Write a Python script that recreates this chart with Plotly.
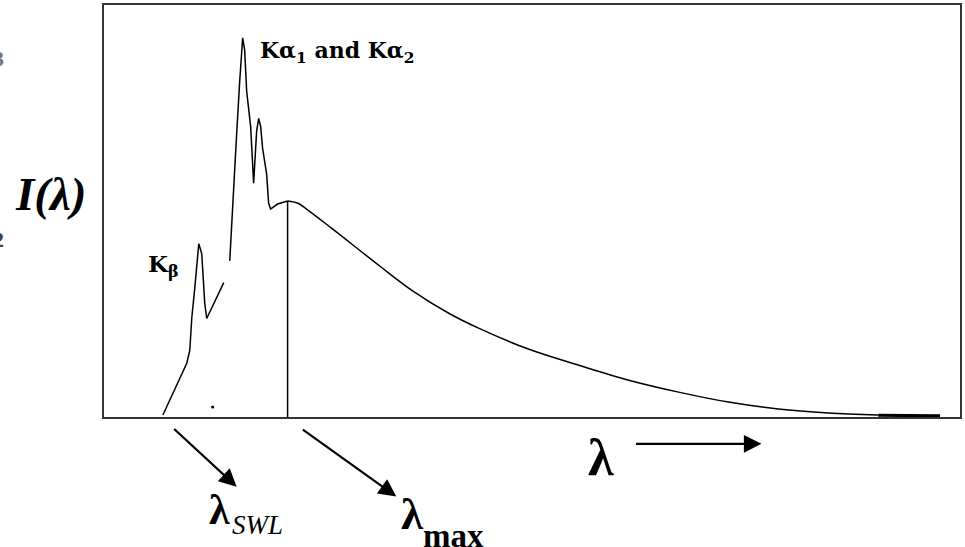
import plotly.graph_objects as go

# Spectrum (arbitrary units): wavelength axis 0..100, intensity 0..100
seg1_x = [6.88, 9.67, 10.02, 10.26, 10.61, 10.84, 11.07, 11.42, 11.77, 12.00, 13.99]
seg1_y = [0.48, 13.04, 16.18, 24.15, 31.40, 37.20, 42.03, 39.61, 27.54, 23.91, 32.61]

peaks_x = [14.69, 15.15, 15.50, 15.85, 16.20, 16.43, 16.67, 17.13, 17.48, 17.83, 18.07,
           18.30, 18.53, 19.00, 19.23, 19.46, 20.28, 21.45]
peaks_y = [37.9, 57.25, 68.84, 81.40, 92.03, 89.13, 78.99, 70.53, 56.76, 69.32, 72.46,
           70.53, 65.22, 58.94, 51.93, 50.48, 51.69, 52.42]

cont_x = [21.45, 22.61, 23.66, 26.69, 32.17, 36.01, 40.33, 43.82, 49.65, 55.48, 61.31,
          67.13, 72.96, 78.79, 84.62, 90.44]
cont_y = [52.42, 51.93, 50.48, 45.65, 36.71, 30.68, 25.12, 21.50, 16.43, 12.56, 8.94,
          6.04, 3.62, 1.93, 0.97, 0.48]

tail_x = [90.44, 97.67]
tail_y = [0.40, 0.30]

lambda_max_x = [21.45, 21.45]
lambda_max_y = [0, 52.42]

dot_x = [12.70]
dot_y = [2.42]

x_range = [0, 100]
y_range = [0, 100]

fig = go.Figure()
line_style = dict(color="black", width=1.5)
fig.add_trace(go.Scatter(x=seg1_x, y=seg1_y, mode="lines", line=line_style))
fig.add_trace(go.Scatter(x=peaks_x, y=peaks_y, mode="lines", line=line_style))
fig.add_trace(go.Scatter(x=cont_x, y=cont_y, mode="lines",
                         line=dict(color="black", width=1.5, shape="spline", smoothing=1.0)))
fig.add_trace(go.Scatter(x=tail_x, y=tail_y, mode="lines", line=dict(color="black", width=3)))
fig.add_trace(go.Scatter(x=lambda_max_x, y=lambda_max_y, mode="lines", line=dict(color="black", width=1.5)))
fig.add_trace(go.Scatter(x=dot_x, y=dot_y, mode="markers", marker=dict(color="black", size=3)))

serif = "Liberation Serif"
wide_serif = "DejaVu Serif"
P = dict(xref="paper", yref="paper", showarrow=False)
ann = []
ann.append(dict(x=0.1795, y=0.8865, xanchor="left", yanchor="middle",
                text="<b>Kα<sub>1</sub> and Kα<sub>2</sub></b>",
                font=dict(family=wide_serif, size=22, color="black"), **P))
ann.append(dict(x=0.049, y=0.3671, xanchor="left", yanchor="middle",
                text="<b>K<sub>β</sub></b>",
                font=dict(family=wide_serif, size=23, color="black"), **P))
ann.append(dict(x=-0.1060, y=0.5411, xanchor="left", yanchor="middle",
                text="<b><i>I(λ)</i></b>",
                font=dict(family=serif, size=47, color="black"), **P))
ann.append(dict(x=0.5810, y=-0.099, xanchor="center", yanchor="middle",
                text="<b>λ</b>",
                font=dict(family=serif, size=52, color="black"), **P))
ann.append(dict(x=0.1350, y=-0.2246, xanchor="center", yanchor="middle",
                text="<b>λ</b>",
                font=dict(family=serif, size=42, color="black"), **P))
ann.append(dict(x=0.1469, y=-0.2633, xanchor="left", yanchor="middle",
                text="<i>SWL</i>",
                font=dict(family=serif, size=27, color="black"), **P))
ann.append(dict(x=0.3600, y=-0.2343, xanchor="center", yanchor="middle",
                text="<b>λ</b>",
                font=dict(family=serif, size=45, color="black"), **P))
ann.append(dict(x=0.3706, y=-0.2880, xanchor="left", yanchor="middle",
                text="<b>max</b>",
                font=dict(family=serif, size=33, color="black"), **P))
# clipped fragments at left edge
ann.append(dict(x=-0.1142, y=0.87, xanchor="right", yanchor="middle",
                text="<b>3</b>", font=dict(family=serif, size=22, color="#777"), **P))
ann.append(dict(x=-0.1142, y=0.43, xanchor="right", yanchor="middle",
                text="<b>2</b>", font=dict(family=serif, size=22, color="#444"), **P))
# arrows
arrow_style = dict(xref="paper", yref="paper", showarrow=True, text="", arrowhead=2,
                   arrowsize=1.6, arrowwidth=2.2, arrowcolor="black",
                   axref="pixel", ayref="pixel")
ann.append(dict(x=0.1550, y=-0.1691, ax=-64, ay=-59, **arrow_style))
ann.append(dict(x=0.3415, y=-0.1932, ax=-95, ay=-68, **arrow_style))
ann.append(dict(x=0.7681, y=-0.0652, ax=-127, ay=0, **arrow_style))

axis_common = dict(showgrid=False, zeroline=False, showticklabels=False, ticks="",
                   showline=True, mirror=True, linecolor="#333", linewidth=2)
fig.update_layout(
    width=965, height=547,
    margin=dict(l=104, r=3, t=3, b=130),
    paper_bgcolor="white", plot_bgcolor="white",
    showlegend=False,
    xaxis=dict(range=x_range, **axis_common),
    yaxis=dict(range=y_range, **axis_common),
    annotations=ann,
    hovermode=False,
)
fig.write_html("out.html", config={"displayModeBar": False})
